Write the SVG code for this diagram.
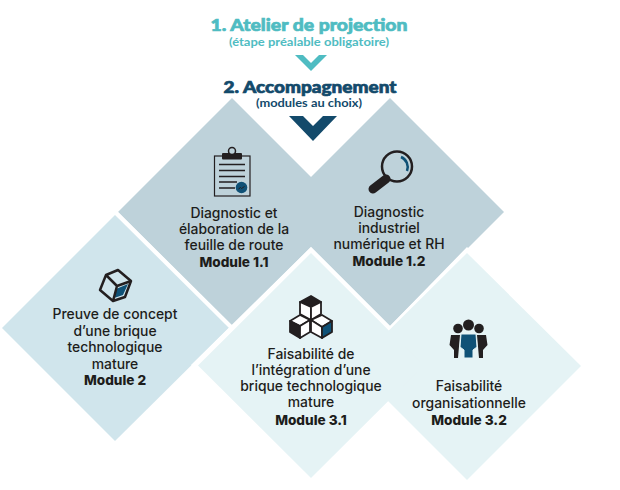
<svg xmlns="http://www.w3.org/2000/svg" width="620" height="490" viewBox="0 0 620 490">
<style>
.b{font-family:"Inter","Liberation Sans",sans-serif;font-size:13.900px;font-weight:500;fill:#1d1d1b;text-anchor:middle}
.m{font-weight:800;font-size:13.600px}
.t{font-family:"Lato","Noto Sans",sans-serif;font-weight:900;font-size:17px;text-anchor:middle;stroke-width:.7px}
.s{font-family:"Lato","Noto Sans",sans-serif;font-weight:700;font-size:11px;text-anchor:middle}
.k{fill:#231f20}
.bl{fill:#0f5176}
.e{stroke:#231f20;stroke-width:1.800;stroke-linejoin:round}
</style>
<rect width="620" height="490" fill="#fff"/>
<g id="header-1">
<text class="t" x="309" y="31" fill="#4fbcc2" stroke="#4fbcc2" textLength="197" lengthAdjust="spacingAndGlyphs">1. Atelier de projection</text>
<text class="s" x="309" y="46" fill="#4fbcc2" textLength="160" lengthAdjust="spacingAndGlyphs">(étape préalable obligatoire)</text>
<polygon points="295,55 303,55 311,63 319,55 327,55 311,71" fill="#4fbcc2"/>
</g>
<g id="module-1-1">
<polygon points="232,98 346,212 232,326 118,212" fill="#bed2da"/>
<g id="icon-clipboard">
<rect x="214.500" y="156" width="35.500" height="40" fill="none" stroke="#231f20" stroke-width="1.200"/>
<rect x="222" y="153" width="20" height="6.500" rx="1" class="k"/>
<circle cx="232" cy="151" r="3.500" fill="#bed2da" stroke="#231f20" stroke-width="1.500"/>
<path d="M219 164.500H245M219 170.500H245M219 176.500H245M219 182H237M219 188H235" stroke="#231f20" stroke-width="1.300" fill="none"/>
<circle cx="241.500" cy="187.500" r="5.800" class="bl"/>
<path d="M238.500 189l2 -1.500 1 1 3 -2" stroke="#231f20" fill="none"/>
</g>
<text class="b" x="234" y="218">Diagnostic et</text>
<text class="b" x="234" y="234">élaboration de la</text>
<text class="b" x="234" y="250">feuille de route</text>
<text class="b m" x="234" y="267">Module 1.1</text>
</g>
<g id="module-1-2">
<polygon points="390,98 504,212 390,326 276,212" fill="#bed2da"/>
<g id="icon-loupe">
<circle cx="397" cy="166.500" r="15" fill="none" stroke="#231f20" stroke-width="2.500"/>
<path d="M401 157A11 11 0 0 1 407 171" fill="none" stroke="#0f5176" stroke-width="2.500"/>
<path d="M386 179L373 189" stroke="#231f20" stroke-width="9" stroke-linecap="round"/>
</g>
<text class="b" x="389" y="217">Diagnostic</text>
<text class="b" x="389" y="233">industriel</text>
<text class="b" x="389" y="249">numérique et RH</text>
<text class="b m" x="389" y="266">Module 1.2</text>
</g>
<g id="header-2">
<text class="t" x="310" y="93" fill="#134a6b" stroke="#134a6b" textLength="173" lengthAdjust="spacingAndGlyphs">2. Accompagnement</text>
<text class="s" x="309" y="107" fill="#134a6b" textLength="106" lengthAdjust="spacingAndGlyphs">(modules au choix)</text>
<polygon points="289,116 303,116 313,126 323,116 337,116 313,141" fill="#134a6b"/>
</g>
<g id="module-2">
<polygon points="115,209 235,328 115,447 -4,328" fill="#fff"/>
<polygon points="115,215 229,328 115,441 2,328" fill="#d0e5ec"/>
<g id="icon-cube">
<polygon points="116,289 128,284 123,295 114,298" class="bl"/>
<path d="M106 275L118 270L131 281L125 297L113 301L100 290ZM106 275L117 286L131 281M117 286L113 301" fill="none" stroke="#231f20" stroke-width="2.500" stroke-linejoin="round"/>
</g>
<text class="b" x="115" y="319">Preuve de concept</text>
<text class="b" x="115" y="336">d’une brique</text>
<text class="b" x="115" y="352">technologique</text>
<text class="b" x="115" y="369">mature</text>
<text class="b m" x="115" y="385">Module 2</text>
</g>
<polygon id="gap-3" points="311,247 390,326 467,247 587,366 467,486 389,408 311,484 191,365" fill="#fff"/>
<g id="module-3-2">
<polygon points="467,253 581,366 467,480 353,366" fill="#e5f3f5"/>
<g id="icon-people">
<circle cx="458" cy="328.500" r="4.800" class="k"/><circle cx="479" cy="328.500" r="4.800" class="k"/><circle cx="468.500" cy="325" r="5.500" class="k"/>
<path d="M451 335H460L458 358H454V350L449.500 345Z" class="k"/>
<path d="M477 335H486L487.500 345L483 350V358H479Z" class="k"/>
<path d="M461 334H476L477 347L473 350V358H464V350L460 347Z" class="bl" stroke="#e5f3f5"/>
</g>
<text class="b" x="469" y="391">Faisabilité</text>
<text class="b" x="469" y="408">organisationnelle</text>
<text class="b m" x="469" y="425">Module 3.2</text>
</g>
<g id="module-3-1">
<polygon points="311,253 424,365.500 311,478 198,365.500" fill="#e5f3f5"/>
<g id="icon-blocks">
<polygon class="k e" points="311,296 321,302 311,307 300,302"/>
<polygon class="e" fill="#fff" points="300,302 311,307 311,320 300,314"/>
<polygon class="e" fill="#fff" points="321,302 311,307 311,320 321,314"/>
<polygon class="e" fill="#fff" points="300,315 310,320 300,326 290,321"/>
<polygon class="k e" points="290,321 300,326 300,338 290,332"/>
<polygon class="e" fill="#fff" points="300,326 310,320 310,332 300,338"/>
<polygon class="e" fill="#fff" points="322,315 332,321 322,327 311,320"/>
<polygon class="e" fill="#fff" points="311,320 322,327 322,338 311,332"/>
<polygon class="e bl" points="322,327 332,321 332,332 322,338"/>
</g>
<text class="b" x="311" y="359">Faisabilité de</text>
<text class="b" x="311" y="375">l’intégration d’une</text>
<text class="b" x="311" y="391">brique technologique</text>
<text class="b" x="311" y="407">mature</text>
<text class="b m" x="311" y="425">Module 3.1</text>
</g>
<g id="connectors"></g>
</svg>
